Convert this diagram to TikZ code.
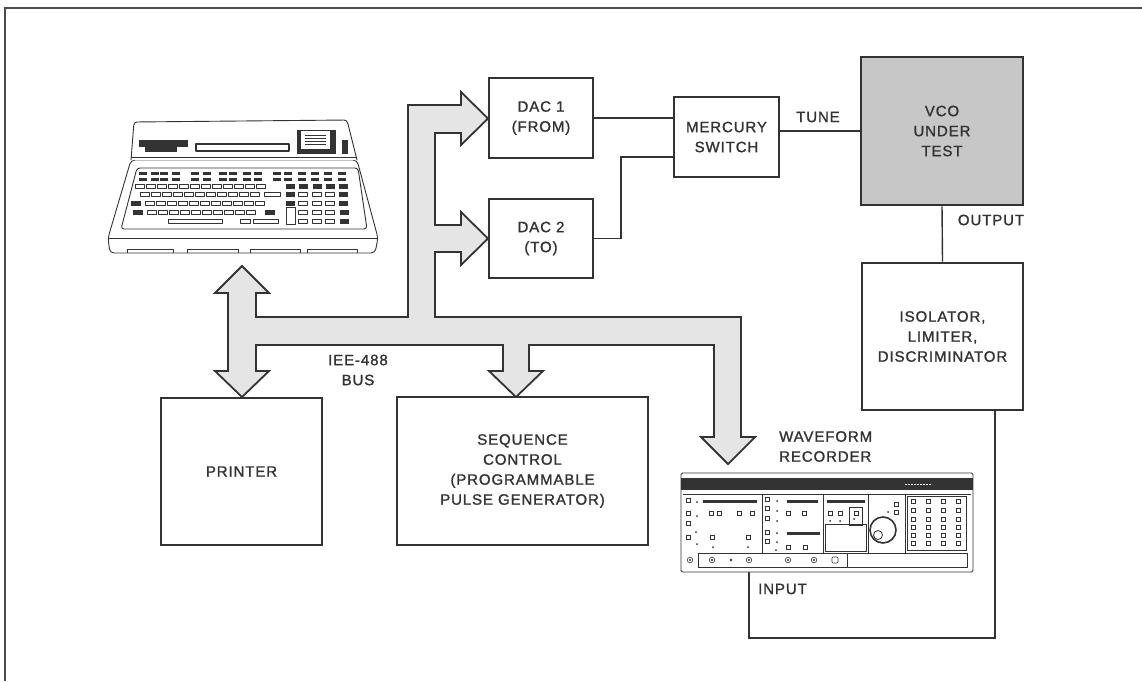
\documentclass[tikz,border=0pt]{standalone}
\usepackage{fontspec}
\setmainfont{Liberation Sans}[LetterSpace=6,FakeBold=1.3]
\definecolor{ink}{gray}{0.2}
\definecolor{busfill}{gray}{0.9}
\definecolor{vcofill}{gray}{0.78}
\begin{document}
\begin{tikzpicture}[x=1pt,y=-1pt,
  lbl/.style={font=\fontsize{15}{20}\selectfont, text=ink, align=center, inner sep=0pt},
  blk/.style={lbl, draw=ink, line width=2.6pt, fill=white},
  wire/.style={draw=ink, line width=1.4pt},
  bus/.style={draw=ink, fill=busfill, line width=1.8pt, line join=miter},
  lk/.style={draw=ink, line width=0.5pt, fill=white}]
\useasboundingbox (0,0) rectangle (1142,681);
% frame
\draw[gray!60!black, line width=1.3pt] (1142,8) -- (5,8) -- (5,681);

% ---------- bus ----------
\draw[bus] (242,266) -- (269,293) -- (256,293) -- (256,317) -- (408,317)
  -- (408,105) -- (461,105) -- (461,92) -- (488,118.5) -- (461,145) -- (461,133)
  -- (435,133) -- (435,225) -- (461,225) -- (461,212) -- (488,238.5) -- (461,265)
  -- (461,252) -- (435,252) -- (435,317) -- (741,317) -- (741,437) -- (755,437)
  -- (728,464) -- (701,437) -- (714,437) -- (714,345) -- (529,345) -- (529,371)
  -- (543,371) -- (516,397) -- (489,371) -- (503,371) -- (503,345) -- (256,345)
  -- (256,371) -- (269,371) -- (242,397) -- (215,371) -- (228,371) -- (228,293)
  -- (215,293) -- cycle;

% ---------- blocks ----------
\node[blk, minimum width=104pt, minimum height=80pt] (dac1) at (541,118) {DAC 1\\(FROM)};
\node[blk, minimum width=104pt, minimum height=79pt] (dac2) at (541,238.5) {DAC 2\\(TO)};
\node[blk, minimum width=105pt, minimum height=80pt] (merc) at (726.5,137) {MERCURY\\SWITCH};
\node[blk, fill=vcofill, minimum width=162pt, minimum height=148pt] (vco) at (942,131) {VCO\\UNDER\\TEST};
\node[blk, minimum width=161pt, minimum height=147pt] (iso) at (942.5,336.5) {ISOLATOR,\\LIMITER,\\DISCRIMINATOR};
\node[blk, minimum width=161pt, minimum height=147pt] (prn) at (241.5,471.5) {PRINTER};
\node[blk, minimum width=251pt, minimum height=148pt] (seq) at (522.5,471) {SEQUENCE\\CONTROL\\(PROGRAMMABLE\\PULSE GENERATOR)};
\node[inner sep=0pt, minimum width=292pt, minimum height=99pt] (rec) at (827,522.5) {};

% ---------- connectors ----------
\coordinate (j2) at (621,157);
\coordinate (c1) at (995,638);
\coordinate (c2) at (749,638);
\draw[wire] (dac1.east) -- (dac1.east -| merc.west);
\draw[wire] (dac2.east) -| (j2) -- (j2 -| merc.west);
\draw[wire] (vco.west) -- (vco.west -| merc.east);
\draw[wire] (vco.south) -- (iso.north);
\draw[wire] (iso.south -| c1) -- (c1) -- (c2) -- (c2 |- rec.south);

% ---------- labels ----------
\node[lbl] (tune) at (818,117) {TUNE};
\node[lbl] (outl) at (991,220) {OUTPUT};
\node[lbl] (busl) at (358,370) {IEE-488\\BUS};
\node[lbl, align=left, anchor=west] (wfl) at (779,446.5) {WAVEFORM\\RECORDER};
\node[lbl, anchor=west] (inpl) at (758,589) {INPUT};

% ---------- computer ----------
\begin{scope}[draw=ink, line width=0.9pt, line join=round]
\draw[fill=white, rounded corners=4pt] (131,160) -- (108,238) -- (110,253) -- (375,253) -- (378,238) -- (357,160) -- cycle;
\draw[fill=white, rounded corners=3pt] (131,160) -- (134,122) -- (347,120) -- (357,160);
\draw (131,157) -- (357,157);
\draw (108,238) -- (378,238);
\foreach \a/\b in {127/173, 187/238, 250/300, 307/357}
  \draw[line width=0.6pt] (\a,253) -- (\a,249.5) -- (\b,249.5) -- (\b,253);
% display row
\fill[ink] (139,140) rectangle (188,147);
\fill[ink] (145,147) rectangle (177,152);
\draw[line width=1.6pt] (196,144) rectangle (289,151);
\fill[ink] (297,130) rectangle (336,154);
\fill[white] (301,131) rectangle (330,149);
\foreach \yy in {135,138,141,144} \draw[line width=0.4pt] (305,\yy) -- (326,\yy);
\fill[ink] (342,140) rectangle (348,154);
% keyboard panel
\draw[rounded corners=3pt] (137,168) -- (358,168) -- (367,229) -- (121,229) -- cycle;
% rows A, B (dark)
\foreach \x in {143,155,164,176,195,207,223,233,247,258,277,288,302,315,328,342} {
  \fill[ink] (\x-4,171.5) rectangle (\x+4,174.5);
  \fill[ink] (\x-4,177.5) rectangle (\x+4,180.5);
}
% row C
\foreach \i in {0,...,11} \draw[lk] (140+11*\i-4.5,184) rectangle (140+11*\i+4.5,188.5);
\foreach \x in {290,303,317,330,343} \fill[ink] (\x-4.5,184) rectangle (\x+4.5,188.5);
% row D
\foreach \i in {0,...,10} \draw[lk] (145+11*\i-4.5,192) rectangle (145+11*\i+4.5,196.5);
\draw[lk] (264,192) rectangle (280,196.5);
\foreach \x in {290,343} \fill[ink] (\x-4.5,192) rectangle (\x+4.5,196.5);
\foreach \x in {303,317,330} \draw[lk] (\x-4.5,192) rectangle (\x+4.5,196.5);
% row E
\fill[ink] (131,201) rectangle (141,205.5);
\foreach \i in {0,...,10} \draw[lk] (150+11*\i-4.5,201) rectangle (150+11*\i+4.5,205.5);
\foreach \x in {290,343} \fill[ink] (\x-4.5,201) rectangle (\x+4.5,205.5);
\foreach \x in {303,317,330} \draw[lk] (\x-4.5,201) rectangle (\x+4.5,205.5);
% row F
\fill[ink] (133,210) rectangle (143,214.5);
\foreach \i in {0,...,9} \draw[lk] (152+11*\i-4.5,210) rectangle (152+11*\i+4.5,214.5);
\fill[ink] (265,210) rectangle (275,214.5);
\draw[lk] (286,207) rectangle (295,224);
\foreach \x in {303,317,330} \draw[lk] (\x-4.5,210) rectangle (\x+4.5,214.5);
\fill[ink] (339.5,210) rectangle (348.5,214.5);
% row G
\draw[lk] (168,219) rectangle (222,223.5);
\draw[lk] (240,219) rectangle (250,223.5);
\draw[lk] (253,219) rectangle (278,223.5);
\foreach \x in {303,317,330} \draw[lk] (\x-4.5,219) rectangle (\x+4.5,223.5);
\fill[ink] (339.5,219) rectangle (348.5,223.5);
\end{scope}

% ---------- waveform recorder ----------
\begin{scope}[draw=ink, line width=0.6pt]
\draw[line width=0.9pt, fill=white, rounded corners=1.5pt] (681,473) rectangle (973,572);
\fill[ink] (681,478) rectangle (973,490);
\draw[white, line width=0.6pt, dash pattern=on 2pt off 1pt] (905,484) -- (932,484);
\draw[line width=0.4pt] (683,494) -- (971,494);
\foreach \x in {762,823,868,905} \draw (\x,494) -- (\x,553);
\draw (698,553) rectangle (967,567);
\draw (847,553) -- (847,567);
\foreach \x in {690,712,749,788,814} { \draw (\x,560) circle (2.8); \fill[ink] (\x,560) circle (1.2); }
\fill[ink] (731,560) circle (1.3);
\draw[rounded corners=1pt] (832,557) rectangle (838,563);
\fill[ink] (703,500) rectangle (757,503);
\fill[ink] (787,500) rectangle (818,503);
\fill[ink] (827,500) rectangle (865,503);
\fill[ink] (787,532) rectangle (820,535);
\foreach \px/\py in {688/500,688/513,711/513,719/513,739/513,752/513,688/523,688/537,712/537,748/537,
  767/499,767/508,767/518,767/532,767/541,788/513,804/513,788/547,805/547,
  830/513,840/513,856/513,896/504,896/512}
  \draw[lk] (\px-2,\py-2) rectangle (\px+2,\py+2);
\foreach \px/\py in {697/502,697/516,696/532,697/544,713/547,748/547,
  777/501,777/511,777/521,777/533,777/542,776/550,830/521,840/521,854/519,888/512}
  \fill[ink] (\px,\py) circle (1);
\draw (849,507) rectangle (862,525);
\draw (825,524) rectangle (866,551);
\draw[line width=1.6pt] (883,530) circle (13);
\draw[line width=0.8pt] (878,535) circle (4.5);
\draw (907,496) rectangle (966,550);
\foreach \x in {913,928,943,958}
  \foreach \y in {501,510,519,527,535,543}
    \draw[lk] (\x-2,\y-2) rectangle (\x+2,\y+2);
\end{scope}
\end{tikzpicture}
\end{document}
